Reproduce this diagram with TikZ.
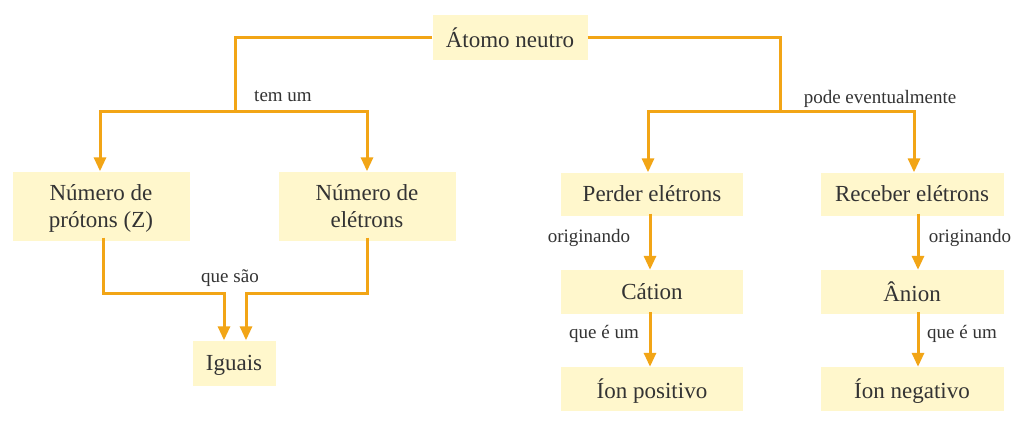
\documentclass[tikz,border=0pt]{standalone}
\usepackage{fontspec}
\setmainfont{Liberation Serif}
\usetikzlibrary{arrows.meta}
\definecolor{boxfill}{HTML}{FFF7CC}
\definecolor{lineor}{HTML}{F2A516}
\definecolor{txt}{HTML}{333333}
\begin{document}
\begin{tikzpicture}[x=1pt,y=-1pt,
  box/.style={fill=boxfill, text=txt, font=\fontsize{23}{27}\selectfont, align=center, inner sep=0pt, text depth=0pt},
  lbl/.style={text=txt, font=\fontsize{19}{22}\selectfont, inner sep=0pt},
  ln/.style={draw=lineor, line width=3pt},
  arr/.style={ln, -{Triangle[width=12pt,length=14pt]}}]
\useasboundingbox[fill=white] (0,0) rectangle (1021,428);
% nodes
\node[box, minimum width=155, minimum height=45] (atom) at (510,38) {Átomo neutro};
\node[box, minimum width=177, minimum height=69] (np) at (101,206) {Número de\\prótons (Z)};
\node[box, minimum width=177, minimum height=69] (ne) at (367,206) {Número de\\elétrons};
\node[box, minimum width=83, minimum height=45] (ig) at (234,363) {Iguais};
\node[box, minimum width=182, minimum height=43] (pe) at (652,194) {Perder elétrons};
\node[box, minimum width=183, minimum height=43] (re) at (912,194) {Receber elétrons};
\node[box, minimum width=182, minimum height=44] (ca) at (652,292) {Cátion};
\node[box, minimum width=183, minimum height=44] (an) at (912,292) {Ânion};
\node[box, minimum width=182, minimum height=44] (ip) at (652,389) {Íon positivo};
\node[box, minimum width=183, minimum height=44] (in) at (912,389) {Íon negativo};
% junctions
\coordinate (jl) at (235,112);
\coordinate (jr) at (780,112);
\coordinate (ql) at (224,293);
\coordinate (qr) at (246,293);
% connectors
\draw[ln] (atom.west) -| (jl);
\draw[arr] (jl) -| ([xshift=-1]np.north);
\draw[arr] (jl) -| (ne.north);
\draw[ln] (atom.east) -| (jr);
\draw[arr] (jr) -| ([xshift=-4]pe.north);
\draw[arr] (jr) -| ([xshift=2]re.north);
\draw[arr] ([xshift=2,yshift=3]np.south) |- (ql) -- (ql |- ig.north);
\draw[arr] ([yshift=3]ne.south) |- (qr) -- (qr |- ig.north);
\draw[arr] ([xshift=-2,yshift=2]pe.south) -- ([xshift=-2]ca.north);
\draw[arr] ([xshift=-2,yshift=2]ca.south) -- ([xshift=-2]ip.north);
\draw[arr] ([xshift=6,yshift=2]re.south) -- ([xshift=6]an.north);
\draw[arr] ([xshift=6,yshift=2]an.south) -- ([xshift=6]in.north);
% labels
\node[lbl] (l1) at (283,96) {tem um};
\node[lbl] (l2) at (880,99) {pode eventualmente};
\node[lbl] (l3) at (230,278) {que são};
\node[lbl] (l4) at (589,238) {originando};
\node[lbl] (l5) at (604,334) {que é um};
\node[lbl] (l6) at (970,238) {originando};
\node[lbl] (l7) at (962,334) {que é um};
\end{tikzpicture}
\end{document}
